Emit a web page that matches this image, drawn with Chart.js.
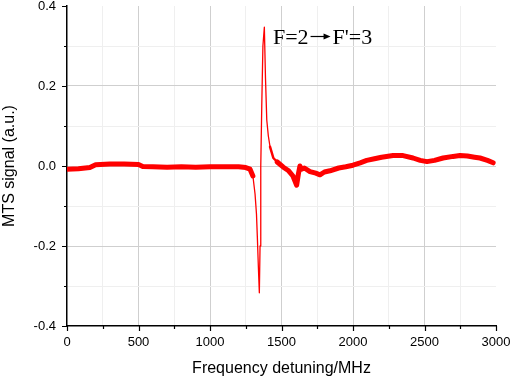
<!DOCTYPE html>
<html>
<head>
<meta charset="utf-8">
<script src="https://cdn.jsdelivr.net/npm/chart.js@4.4.1/dist/chart.umd.min.js"></script>
<style>
  html, body { margin: 0; padding: 0; background: #fff; }
  #wrap { width: 512px; height: 378px; }
</style>
</head>
<body>
<div id="wrap"><canvas id="chart"></canvas></div>
<script>
// detuning (MHz) and MTS signal (a.u.)
const detuning = [0, 80, 160, 200, 300, 400, 500, 530, 600, 700, 800, 900, 1000, 1100, 1200, 1250,
  1280, 1300, 1315, 1325, 1331, 1338, 1345, 1350, 1355, 1362, 1370, 1380, 1388, 1397, 1408, 1420,
  1443, 1470, 1513, 1550, 1580, 1606, 1618, 1629, 1640, 1660, 1699, 1740, 1769, 1800, 1839, 1900,
  1950, 2000, 2050, 2096, 2150, 2200, 2280, 2350, 2420, 2470, 2517, 2570, 2630, 2700, 2748, 2800,
  2850, 2888, 2940, 2980];
const signal = [-0.008, -0.007, -0.004, 0.003, 0.005, 0.005, 0.004, -0.001, -0.002, -0.003, -0.002, -0.003, -0.002, -0.002, -0.002, -0.004,
  -0.008, -0.025, -0.07, -0.12, -0.177, -0.25, -0.317, -0.2, 0.0, 0.15, 0.3, 0.347, 0.22, 0.115, 0.075, 0.048,
  0.02, 0.01, -0.003, -0.012, -0.025, -0.048, -0.02, 0.0, -0.008, -0.005, -0.014, -0.018, -0.022, -0.015, -0.012, -0.005,
  -0.002, 0.002, 0.008, 0.014, 0.018, 0.022, 0.026, 0.026, 0.02, 0.014, 0.011, 0.014, 0.02, 0.024, 0.026, 0.025,
  0.022, 0.02, 0.014, 0.008];

const xTicks = [0, 500, 1000, 1500, 2000, 2500, 3000];
const yTicks = [-0.4, -0.2, 0.0, 0.2, 0.4];
const labelFrom = "F=2";
const labelTo = "F'=3";

const points = detuning.map((x, i) => ({ x: x, y: signal[i] }));

const isMajorX = v => xTicks.includes(v);
const isMajorY = v => yTicks.some(t => Math.abs(t - v) < 1e-6);

// outward tick marks, long at labelled ticks, short in between; plus the transition label
const tickMarks = {
  id: "tickMarks",
  afterDraw(chart) {
    const ctx = chart.ctx;
    const xs = chart.scales.x, ys = chart.scales.y;
    ctx.save();
    ctx.strokeStyle = "#000";
    ctx.lineWidth = 1.2;
    ctx.beginPath();
    xs.ticks.forEach(t => {
      const px = Math.round(xs.getPixelForValue(t.value)) + 0.5;
      const len = isMajorX(t.value) ? 5 : 3;
      ctx.moveTo(px, ys.bottom);
      ctx.lineTo(px, ys.bottom + len);
    });
    ys.ticks.forEach(t => {
      const py = Math.round(ys.getPixelForValue(t.value)) + 0.5;
      const len = isMajorY(t.value) ? 5 : 3;
      ctx.moveTo(xs.left, py);
      ctx.lineTo(xs.left - len, py);
    });
    ctx.stroke();

    // "F=2 -> F'=3"
    const x0 = xs.getPixelForValue(1440);
    const base = ys.getPixelForValue(0.305);
    ctx.fillStyle = "#000";
    ctx.font = "22px 'Liberation Serif', 'Times New Roman', serif";
    ctx.textBaseline = "alphabetic";
    ctx.fillText(labelFrom, x0, base);
    const a0 = x0 + ctx.measureText(labelFrom).width + 2;
    const a1 = a0 + 20;
    const ay = base - 7.5;
    ctx.lineWidth = 1.2;
    ctx.beginPath();
    ctx.moveTo(a0, ay);
    ctx.lineTo(a1 - 6, ay);
    ctx.stroke();
    ctx.beginPath();
    ctx.moveTo(a1, ay);
    ctx.lineTo(a1 - 7, ay - 3);
    ctx.lineTo(a1 - 7, ay + 3);
    ctx.closePath();
    ctx.fill();
    ctx.fillText(labelTo, a1 + 2, base);
    ctx.restore();
  },
};

const gridColor = (ctx, major) => {
  if (ctx.tick === undefined) return "transparent";
  const v = ctx.tick.value;
  const sc = ctx.scale;
  if (Math.abs(v - sc.min) < 1e-6 || Math.abs(v - sc.max) < 1e-6) return "transparent";
  return major(v) ? "#cfcfcf" : "#efefef";
};

const config = {
  type: "line",
  data: {
    datasets: [
      {
        data: points,
        borderColor: "#ff0000",
        borderWidth: 5,
        borderCapStyle: "round",
        borderJoinStyle: "round",
        pointRadius: 0,
        tension: 0,
        fill: false,
        segment: {
          borderWidth: c => {
            const x = c.p0.parsed.x;
            if (x >= 1285 && x < 1420) return 1.3;
            if (x >= 1420 && x < 1470) return 2.5;
            return 5;
          },
        },
      },
    ],
  },
  options: {
    responsive: true,
    maintainAspectRatio: false,
    animation: false,
    layout: { padding: { top: 6, right: 16, bottom: 0, left: 0 } },
    plugins: { legend: { display: false }, tooltip: { enabled: false } },
    scales: {
      x: {
        type: "linear",
        min: 0,
        max: 3000,
        afterFit(scale) {
          scale.height = 52;
          scale.paddingLeft = 0;
          scale.paddingRight = 0;
        },
        ticks: {
          stepSize: 250,
          autoSkip: false,
          maxRotation: 0,
          padding: 9,
          color: "#000",
          font: { family: "'Liberation Sans', Arial, sans-serif", size: 13 },
          callback: v => (isMajorX(v) ? String(v) : ""),
        },
        grid: {
          drawTicks: false,
          color: c => gridColor(c, isMajorX),
          lineWidth: 1,
        },
        border: { color: "#000", width: 1.5 },
        title: {
          display: true,
          text: "Frequency detuning/MHz",
          color: "#000",
          padding: 0,
          font: { family: "'Liberation Sans', Arial, sans-serif", size: 16 },
        },
      },
      y: {
        min: -0.4,
        max: 0.4,
        afterFit(scale) {
          scale.width = 67;
          scale.paddingTop = 0;
          scale.paddingBottom = 0;
        },
        ticks: {
          stepSize: 0.1,
          autoSkip: false,
          padding: 11,
          color: "#000",
          font: { family: "'Liberation Sans', Arial, sans-serif", size: 13 },
          callback: v => (isMajorY(v) ? (Math.abs(v) < 1e-6 ? "0.0" : v.toFixed(1)) : ""),
        },
        grid: {
          drawTicks: false,
          color: c => gridColor(c, isMajorY),
          lineWidth: 1,
        },
        border: { color: "#000", width: 1.5 },
        title: {
          display: true,
          text: "MTS signal (a.u.)",
          color: "#000",
          padding: 0,
          font: { family: "'Liberation Sans', Arial, sans-serif", size: 16 },
        },
      },
    },
  },
  plugins: [tickMarks],
};

const chart = new Chart(document.getElementById("chart"), config);
</script>
</body>
</html>
